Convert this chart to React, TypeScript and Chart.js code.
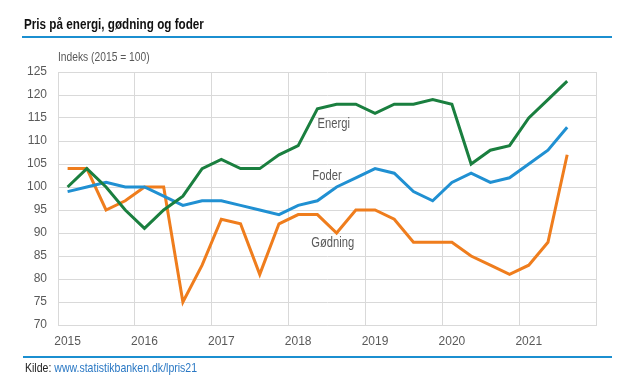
import React, { useEffect, useRef } from 'react';
import { Chart, registerables } from 'chart.js';

Chart.register(...registerables);

const years = ['2015', '2016', '2017', '2018', '2019', '2020', '2021'];
const quarters = ['K1', 'K2', 'K3', 'K4'];
const categories = years.flatMap((y) => quarters.map((q) => `${y}${q}`));

const energi = [100, 104, 100, 95, 91, 95, 98, 104, 106, 104, 104, 107, 109, 117, 118, 118, 116, 118, 118, 119, 118, 105, 108, 109, 115, 119, 123];
const foder = [99, 100, 101, 100, 100, 98, 96, 97, 97, 96, 95, 94, 96, 97, 100, 102, 104, 103, 99, 97, 101, 103, 101, 102, 105, 108, 113];
const godning = [104, 104, 95, 97, 100, 100, 75, 83, 93, 92, 81, 92, 94, 94, 90, 95, 95, 93, 88, 88, 88, 85, 83, 81, 83, 88, 107];

const yMin = 70;
const yMax = 125;
const yStep = 5;

const seriesNames = ['Energi', 'Foder', 'Gødning'];
const seriesColors = ['#1a7f3f', '#2090d2', '#ef7d1d'];
const labelIndex = [13.85, 13.5, 13.8];
const labelValue = [113.7, 102.4, 87.8];

const FONT = "'Liberation Sans Narrow', 'Arial Narrow', 'Liberation Sans', Arial, sans-serif";

const seriesLabelPlugin = {
  id: 'seriesLabels',
  afterDatasetsDraw(chart: any) {
    const ctx = chart.ctx;
    const xs = chart.scales.x;
    const ys = chart.scales.y;
    seriesNames.forEach((name, i) => {
      ctx.save();
      ctx.translate(xs.getPixelForValue(labelIndex[i]), ys.getPixelForValue(labelValue[i]));
      ctx.scale(0.8, 1);
      ctx.font = `14px ${FONT}`;
      ctx.fillStyle = '#595959';
      ctx.textAlign = 'center';
      ctx.textBaseline = 'middle';
      ctx.fillText(name, 0, 0);
      ctx.restore();
    });
  },
};

const narrow = (s: number): React.CSSProperties => ({ transform: `scaleX(${s})`, transformOrigin: 'left center', whiteSpace: 'nowrap' });

export default function App() {
  const ref = useRef<HTMLCanvasElement | null>(null);

  useEffect(() => {
    if (!ref.current) return;
    const chart = new Chart(ref.current, {
      type: 'line',
      data: {
        labels: categories,
        datasets: [
          { label: seriesNames[0], data: energi, borderColor: seriesColors[0] },
          { label: seriesNames[1], data: foder, borderColor: seriesColors[1] },
          { label: seriesNames[2], data: godning, borderColor: seriesColors[2] },
        ].map((d) => ({ ...d, borderWidth: 3, pointRadius: 0, tension: 0, fill: false, borderJoinStyle: 'miter' as const })),
      },
      options: {
        responsive: false,
        animation: false,
        devicePixelRatio: 1,
        layout: { padding: { left: 0, top: 72, right: 44, bottom: 31 } },
        plugins: { legend: { display: false }, tooltip: { enabled: false }, title: { display: false } },
        scales: {
          x: {
            type: 'category',
            offset: true,
            afterFit: (s: any) => { s.height = 30; },
            grid: {
              offset: true,
              drawTicks: false,
              color: (c: any) => (c.index === undefined || c.index % 4 === 0 ? '#d9d9d9' : 'rgba(0,0,0,0)'),
              lineWidth: 1,
            },
            border: { color: '#d9d9d9' },
            ticks: {
              autoSkip: false,
              maxRotation: 0,
              minRotation: 0,
              padding: 9,
              color: '#595959',
              font: { family: FONT, size: 12 },
              callback: (_v: any, i: number) => (categories[i] && categories[i].endsWith('K1') ? categories[i].slice(0, 4) : ''),
            },
          },
          y: {
            min: yMin,
            max: yMax,
            afterFit: (s: any) => { s.width = 58; },
            grid: { color: '#d9d9d9', drawTicks: false, lineWidth: 1 },
            border: { color: '#d9d9d9' },
            ticks: {
              stepSize: yStep,
              padding: 11,
              color: '#595959',
              font: { family: FONT, size: 12 },
            },
          },
        },
      },
      plugins: [seriesLabelPlugin],
    });
    return () => chart.destroy();
  }, []);

  return (
    <div style={{ position: 'fixed', left: 0, top: 0, width: 640, height: 386, background: '#fff', overflow: 'hidden' }}>
      <canvas ref={ref} width={640} height={386} style={{ position: 'absolute', left: 0, top: 0, width: 640, height: 386 }} />
      <div style={{ position: 'absolute', left: 24, top: 16, fontFamily: FONT, fontWeight: 'bold', fontSize: 14, lineHeight: '16px', color: '#111', ...narrow(0.835) }}>
        Pris på energi, gødning og foder
      </div>
      <div style={{ position: 'absolute', left: 22, top: 36, width: 590, height: 2, background: '#1b8fd0' }} />
      <div style={{ position: 'absolute', left: 58, top: 49, fontFamily: FONT, fontSize: 13, lineHeight: '15px', color: '#595959', ...narrow(0.79) }}>
        Indeks (2015 = 100)
      </div>
      <div style={{ position: 'absolute', left: 23, top: 356, width: 589, height: 2, background: '#1b8fd0' }} />
      <div style={{ position: 'absolute', left: 25, top: 360, fontFamily: FONT, fontSize: 13, lineHeight: '15px', color: '#222', ...narrow(0.81) }}>
        Kilde: <span style={{ color: '#2a78c4' }}>www.statistikbanken.dk/lpris21</span>
      </div>
    </div>
  );
}
